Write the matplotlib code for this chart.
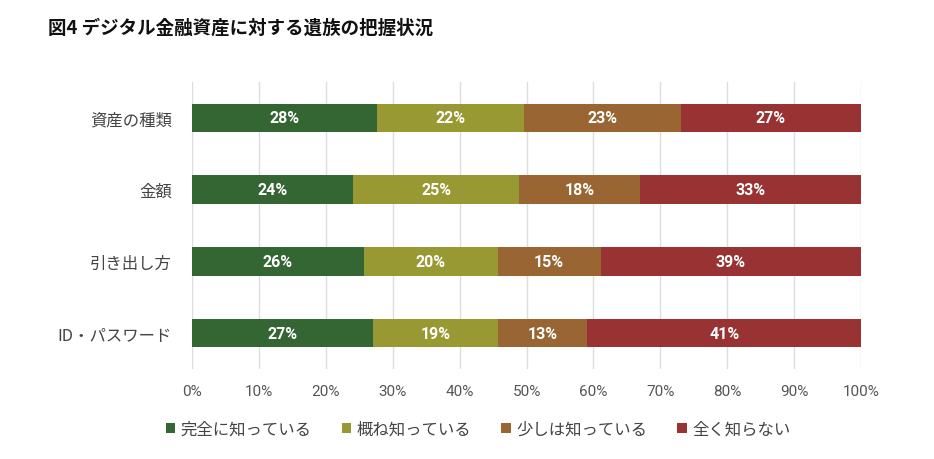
import matplotlib
matplotlib.use("Agg")
import matplotlib.pyplot as plt
import numpy as np
from matplotlib.patches import Patch

plt.rcParams['font.family'] = ['Noto Sans CJK JP', 'DejaVu Sans']
NUM_FONT = ['Roboto', 'Noto Sans CJK JP', 'DejaVu Sans']

# -------------------------------
# Données
# -------------------------------
categories = ["資産の種類", "金額", "引き出し方", "ID・パスワード"]
series_names = ["完全に知っている", "概ね知っている", "少しは知っている", "全く知らない"]
kanzen = [27.6, 24.1, 25.7, 27.1]
gaine = [22.1, 24.8, 20.0, 18.6]
sukoshi = [23.4, 18.1, 15.4, 13.4]
mattaku = [26.9, 33.0, 38.9, 40.9]
colors = ["#336633", "#999933", "#996633", "#993333"]
xticks = [0, 10, 20, 30, 40, 50, 60, 70, 80, 90, 100]

# -------------------------------
# Figure
# -------------------------------
fig = plt.figure(figsize=(9.34, 4.60), dpi=100)
ax = fig.add_axes([192 / 934, 1 - 370 / 460, 669 / 934, 287 / 460])

y = np.arange(len(categories))
left = np.zeros(len(categories))
for name, vals, col in zip(series_names, [kanzen, gaine, sukoshi, mattaku], colors):
    vals = np.array(vals)
    ax.barh(y, vals, left=left, height=0.4, color=col, zorder=3)
    for yi, l, v in zip(y, left, vals):
        ax.text(l + v / 2, yi, f"{v:.0f}%", ha="center", va="center",
                color="white", fontsize=11.5, fontweight="bold", family=NUM_FONT, zorder=4)
    left += vals

ax.set_xlim(0, 100)
ax.set_ylim(len(categories) - 0.5, -0.5)
ax.set_xticks(xticks)
ax.set_xticklabels([f"{t}%" for t in xticks], color="#555555", fontsize=11, family=NUM_FONT)
ax.set_yticks(y)
ax.set_yticklabels(categories, color="#444444", fontsize=11.8)
ax.tick_params(axis="both", length=0)
ax.tick_params(axis="x", pad=11)
ax.tick_params(axis="y", pad=14.5)
ax.xaxis.grid(True, color="#dddddd", linewidth=1, zorder=0)
for s in ax.spines.values():
    s.set_visible(False)

fig.text(48 / 934, 1 - 28 / 460, "図4 デジタル金融資産に対する遺族の把握状況",
         fontsize=13.3, fontweight="bold", color="#111111", va="center")

handles = [Patch(facecolor=c) for c in colors]
fig.legend(handles, series_names, loc="center", bbox_to_anchor=(478 / 934, 1 - 430 / 460),
           ncol=4, frameon=False, fontsize=11.8, handlelength=0.6, handleheight=0.6,
           handletextpad=0.3, columnspacing=1.85, labelcolor="#444444")

fig.savefig("out.png", dpi=100)
